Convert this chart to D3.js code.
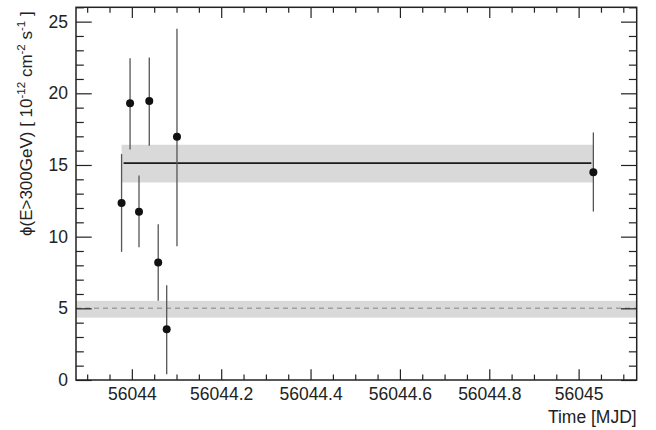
<!DOCTYPE html>
<html><head><meta charset="utf-8">
<script src="https://cdn.jsdelivr.net/npm/d3@7"></script>
<style>body{margin:0;background:#fff} text{font-family:"Liberation Sans",Arial,Helvetica,sans-serif}</style>
</head><body><svg id="c" width="656" height="430"></svg>
<script>
// ---- data ----
const times    = [56043.977, 56043.996, 56044.016, 56044.039, 56044.059, 56044.078, 56044.101, 56045.033];
const flux     = [12.34, 19.30, 11.73, 19.46, 8.19, 3.54, 16.97, 14.50];
const fluxLow  = [8.94, 16.08, 9.26, 16.34, 5.52, 0.40, 9.33, 11.75];
const fluxHigh = [15.76, 22.45, 14.27, 22.50, 10.87, 6.61, 24.50, 17.27];
const meanFlux = [15.13];
const meanBand = [13.78, 16.41];
const meanSpan = [56043.977, 56045.033];
const refFlux  = [5.0];
const refBand  = [4.35, 5.52];
const xTickValues = [56044, 56044.2, 56044.4, 56044.6, 56044.8, 56045];
const yTickValues = [0, 5, 10, 15, 20, 25];
const xDomain = [56043.875, 56045.130];
const yDomain = [0, 26];

// ---- layout ----
const W = 656, H = 430;
const m = {left: 76, right: 19.3, top: 7.3, bottom: 50};
const svg = d3.select("#c");
const x = d3.scaleLinear().domain(xDomain).range([m.left, W - m.right]);
const y = d3.scaleLinear().domain(yDomain).range([H - m.bottom, m.top]);

const g = svg.append("g");
// reference band + dashed line
g.append("rect")
  .attr("x", x(xDomain[0])).attr("width", x(xDomain[1]) - x(xDomain[0]))
  .attr("y", y(refBand[1])).attr("height", y(refBand[0]) - y(refBand[1]))
  .attr("fill", "#d9d9d9");
g.append("line")
  .attr("x1", x(xDomain[0])).attr("x2", x(xDomain[1]))
  .attr("y1", y(refFlux[0])).attr("y2", y(refFlux[0]))
  .attr("stroke", "#a0a0a0").attr("stroke-width", 1.5).attr("stroke-dasharray", "5,4");
// mean band + line
g.append("rect")
  .attr("x", x(meanSpan[0])).attr("width", x(meanSpan[1]) - x(meanSpan[0]))
  .attr("y", y(meanBand[1])).attr("height", y(meanBand[0]) - y(meanBand[1]))
  .attr("fill", "#d9d9d9");
g.append("line")
  .attr("x1", x(meanSpan[0]) + 2).attr("x2", x(meanSpan[1]) - 2)
  .attr("y1", y(meanFlux[0])).attr("y2", y(meanFlux[0]))
  .attr("stroke", "#1a1a1a").attr("stroke-width", 1.6);

// error bars
const idx = d3.range(times.length);
g.selectAll("line.err").data(idx).join("line").attr("class", "err")
  .attr("x1", i => x(times[i])).attr("x2", i => x(times[i]))
  .attr("y1", i => y(fluxLow[i])).attr("y2", i => y(fluxHigh[i]))
  .attr("stroke", "#555").attr("stroke-width", 1.3);
g.selectAll("circle.pt").data(idx).join("circle").attr("class", "pt")
  .attr("cx", i => x(times[i])).attr("cy", i => y(flux[i])).attr("r", 4)
  .attr("fill", "#111");

// axes
const fs = "17.5px";
const xMinor = d3.range(56043.9, 56045.13, 0.05).map(v => +v.toFixed(2)).filter(v => !xTickValues.some(t => Math.abs(t - v) < 1e-6));
const yMinor = d3.range(0, 26.01, 1).filter(v => v % 5 !== 0);

function styleAxis(sel) {
  sel.select(".domain").remove();
  sel.selectAll(".tick line").attr("stroke", "#222").attr("stroke-width", 1.2);
  sel.selectAll(".tick text").attr("fill", "#222").style("font-size", fs)
     .style("font-family", '"Liberation Sans",Arial,Helvetica,sans-serif');
}
const fmt = d3.format("");
// bottom
svg.append("g").attr("transform", `translate(0,${H - m.bottom})`)
  .call(d3.axisBottom(x).tickValues(xTickValues).tickSize(-10.7).tickPadding(7.6).tickFormat(fmt)).call(styleAxis);
svg.append("g").attr("transform", `translate(0,${H - m.bottom})`)
  .call(d3.axisBottom(x).tickValues(xMinor).tickSize(-5.4).tickFormat("")).call(styleAxis);
// top
svg.append("g").attr("transform", `translate(0,${m.top})`)
  .call(d3.axisTop(x).tickValues(xTickValues).tickSize(-10.7).tickFormat("")).call(styleAxis);
svg.append("g").attr("transform", `translate(0,${m.top})`)
  .call(d3.axisTop(x).tickValues(xMinor).tickSize(-5.4).tickFormat("")).call(styleAxis);
// left
svg.append("g").attr("transform", `translate(${m.left},0)`)
  .call(d3.axisLeft(y).tickValues(yTickValues).tickSize(-15.7).tickPadding(8).tickFormat(fmt)).call(styleAxis);
svg.append("g").attr("transform", `translate(${m.left},0)`)
  .call(d3.axisLeft(y).tickValues(yMinor).tickSize(-7.8).tickFormat("")).call(styleAxis);
// right
svg.append("g").attr("transform", `translate(${W - m.right},0)`)
  .call(d3.axisRight(y).tickValues(yTickValues).tickSize(-15.7).tickFormat("")).call(styleAxis);
svg.append("g").attr("transform", `translate(${W - m.right},0)`)
  .call(d3.axisRight(y).tickValues(yMinor).tickSize(-7.8).tickFormat("")).call(styleAxis);

// frame
svg.append("rect").attr("x", m.left).attr("y", m.top)
  .attr("width", W - m.left - m.right).attr("height", H - m.top - m.bottom)
  .attr("fill", "none").attr("stroke", "#222").attr("stroke-width", 1.5);

// axis titles
svg.append("text").attr("x", W - m.right).attr("y", 423).attr("text-anchor", "end")
  .attr("fill", "#222").style("font-size", fs).text("Time [MJD]");
const yl = svg.append("text").attr("transform", `translate(32,${m.top + 4}) rotate(-90)`)
  .attr("text-anchor", "end").attr("fill", "#222").style("font-size", "17px");
yl.append("tspan").text("\u03D5(E>300GeV) [ 10");
yl.append("tspan").attr("dy", -7).style("font-size", "11.5px").text("-12");
yl.append("tspan").attr("dy", 7).text(" cm");
yl.append("tspan").attr("dy", -7).style("font-size", "11.5px").text("-2");
yl.append("tspan").attr("dy", 7).text(" s");
yl.append("tspan").attr("dy", -7).style("font-size", "11.5px").text("-1");
yl.append("tspan").attr("dy", 7).text(" ]");
</script></body></html>
